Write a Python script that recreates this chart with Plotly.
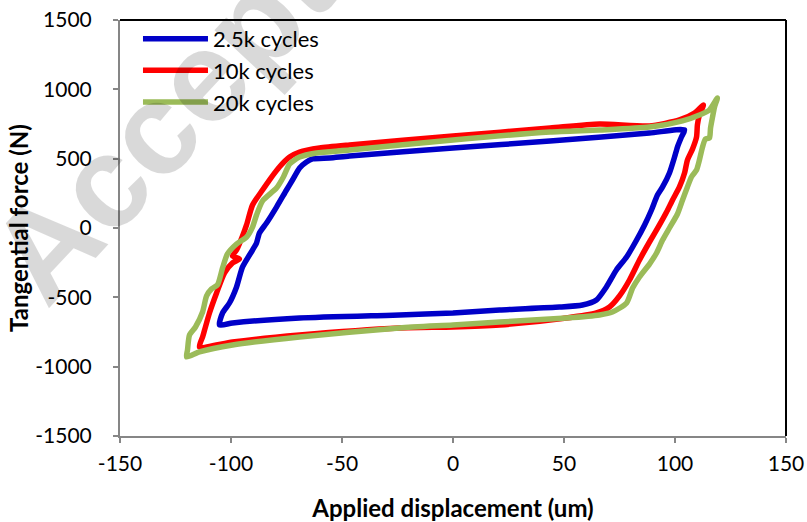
import plotly.graph_objects as go

# ---- data (displacement in um, tangential force in N) ----
series_names = ["2.5k cycles", "10k cycles", "20k cycles"]

disp_2_5k = [-105.2, -103.8, -100.7, -97.5, -94.8, -90.3, -88.5, -87.2, -84.0, -79.5, -75.0, -72.3,
             -69.1, -66.0, -63.3, -55.6, -46.6, 0.0, 43.7, 88.5, 104.3,
             102.9, 101.1, 99.8, 97.5, 94.4, 92.1, 89.4, 86.3, 82.2, 78.2, 73.6, 69.1, 64.6,
             58.3, 48.0, 21.0, 0.0, -24.1, -69.1, -99.3, -105.2]
force_2_5k = [-699, -613, -541, -425, -281, -159, -108, -36, 36, 151, 274, 346,
              433, 476, 498, 505, 519, 577, 627, 685, 707,
              656, 584, 512, 397, 296, 238, 130, 22, -101, -209, -303, -425, -519,
              -555, -570, -591, -613, -627, -649, -685, -699]

disp_10k = [-114.2, -112.8, -111.9, -109.7, -106.5, -102.9, -99.3, -96.2, -99.3, -97.5, -94.8,
            -93.0, -90.3, -85.8, -82.7, -78.2, -73.6, -69.1, -60.1, -46.6, 0.0, 43.7, 66.0,
            88.5, 102.0, 108.8, 112.8,
            111.0, 110.1, 109.7, 107.9, 105.6, 104.3, 102.0, 98.9, 96.2, 93.0, 88.5, 84.0,
            79.5, 75.0, 70.5, 64.6, 51.1, 21.0, 0.0, -24.1, -69.1, -99.3, -114.2]
force_10k = [-858, -786, -736, -613, -469, -324, -252, -224, -202, -159, -58,
             22, 166, 274, 346, 440, 512, 548, 577, 599, 663, 721, 750,
             736, 779, 829, 887,
             815, 743, 656, 570, 490, 397, 296, 202, 115, 22, -101, -231,
             -375, -490, -570, -613, -649, -699, -714, -721, -772, -822, -858]

disp_20k = [-120.0, -119.6, -118.7, -116.0, -112.8, -111.0, -108.8, -106.1, -103.8, -101.6,
            -97.5, -93.0, -90.3, -88.5, -85.8, -79.5, -76.4, -73.6, -69.1, -61.5, -46.6,
            0.0, 43.7, 66.0, 88.5, 103.4, 111.0, 115.5, 119.1,
            117.8, 116.9, 116.0, 115.5, 113.7, 112.4, 111.0, 109.7, 107.4, 105.6, 103.4,
            101.1, 97.5, 94.4, 91.7, 88.5, 84.0, 80.9, 78.2, 71.8, 66.0, 51.1, 21.0, 0.0,
            -24.1, -69.1, -99.3, -114.2, -120.0]
force_20k = [-930, -880, -772, -714, -606, -490, -440, -411, -288, -187,
             -115, -65, 7, 94, 195, 288, 368, 461, 512, 541, 562,
             635, 692, 707, 728, 772, 815, 851, 937,
             873, 800, 721, 649, 642, 584, 490, 418, 368, 296, 202,
             101, 0, -87, -180, -260, -353, -433, -541, -606, -627, -649, -678, -699,
             -721, -786, -844, -894, -930]

x_ticks = [-150, -100, -50, 0, 50, 100, 150]
y_ticks = [-1500, -1000, -500, 0, 500, 1000, 1500]

colors = ["#0000C8", "#FF0000", "#9BBB59"]
FONT = "Lato"

fig = go.Figure()

for name, xs, ys, c in zip(series_names, [disp_2_5k, disp_10k, disp_20k],
                           [force_2_5k, force_10k, force_20k], colors):
    fig.add_trace(go.Scatter(x=xs, y=ys, mode="lines", name=name,
                             line=dict(color=c, width=5.5, shape="spline", smoothing=0.6)))

# watermark (semi-transparent so text and lines stay visible through it)
fig.add_annotation(text="<b>Accepted</b>", xref="paper", yref="paper",
                   x=0.14, y=0.889, showarrow=False, textangle=-47,
                   font=dict(family="Liberation Sans", size=130, color="rgba(0,0,0,0.15)"),
                   xanchor="center", yanchor="middle")

axis_common = dict(showgrid=False, zeroline=False, showline=True, linecolor="#868686",
                   linewidth=2, ticks="outside", ticklen=5, tickwidth=1.5,
                   tickcolor="#868686", tickfont=dict(family=FONT, size=21, color="black"))

fig.update_xaxes(range=[-150, 150], tickvals=x_ticks, ticktext=[str(v) for v in x_ticks],
                 ticklabelstandoff=3,
                 title=dict(text="<b>Applied displacement (um)</b>", standoff=26,
                            font=dict(family=FONT, size=24, color="black")),
                 **axis_common)
fig.update_yaxes(range=[-1500, 1500], tickvals=y_ticks, ticktext=[str(v) for v in y_ticks],
                 ticklabelstandoff=17,
                 title=dict(text="<b>Tangential force (N)</b>", standoff=0,
                            font=dict(family=FONT, size=24, color="black")),
                 **axis_common)

# black frame on top and right
fig.add_shape(type="line", xref="paper", yref="paper", x0=0, x1=1, y0=1, y1=1,
              line=dict(color="black", width=2))
fig.add_shape(type="line", xref="paper", yref="paper", x0=1, x1=1, y0=0, y1=1,
              line=dict(color="black", width=2))

fig.update_layout(
    width=807, height=522,
    margin=dict(l=120, r=21, t=20, b=86, autoexpand=False),
    plot_bgcolor="white", paper_bgcolor="white",
    showlegend=True,
    legend=dict(x=0.027, y=1.005, xanchor="left", yanchor="top", bgcolor="rgba(0,0,0,0)",
                font=dict(family=FONT, size=22, color="black"), itemwidth=65,
                tracegroupgap=0),
)

fig.write_html("out.html")
